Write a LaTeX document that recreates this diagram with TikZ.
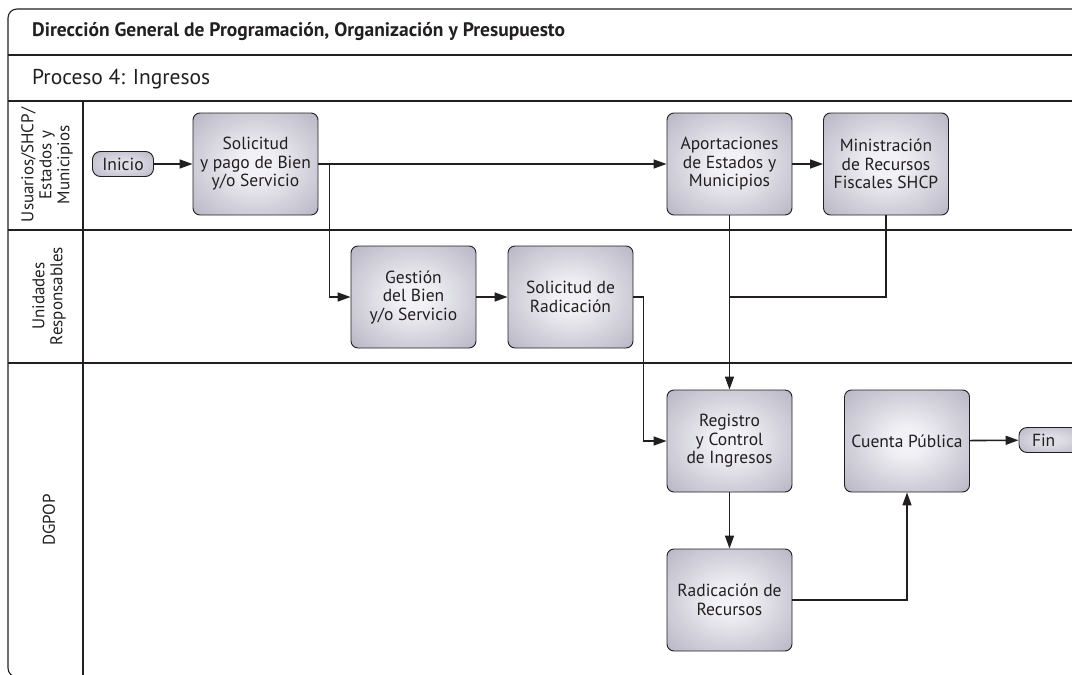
\documentclass[tikz,border=0pt]{standalone}
\usepackage{fontspec}
\setmainfont{PT Sans}
\usetikzlibrary{arrows.meta}
\definecolor{boxin}{RGB}{242,242,246}
\definecolor{boxout}{RGB}{166,164,182}
\definecolor{pillin}{RGB}{222,221,230}
\definecolor{pillout}{RGB}{170,168,186}
\definecolor{ink}{RGB}{35,31,32}
\pgfdeclareradialshading{boxglow}{\pgfpoint{0bp}{0bp}}{color(0bp)=(boxin); color(6bp)=(boxin); color(44bp)=(boxout); color(100bp)=(boxout)}
\pgfdeclareradialshading{pillglow}{\pgfpoint{0bp}{0bp}}{color(0bp)=(pillin); color(10bp)=(pillin); color(45bp)=(pillout); color(100bp)=(pillout)}
\begin{document}
\begin{tikzpicture}[x=1pt,y=-1pt,
  lane/.style={draw=ink,line width=1.1pt},
  stepbox/.style={draw=ink,line width=0.9pt,rounded corners=7pt,shading=boxglow,
    minimum width=125pt,minimum height=102pt,align=center,inner sep=1pt,
    font=\fontsize{17.5}{18.5}\selectfont,text=ink},
  pill/.style={draw=ink,line width=0.9pt,rounded corners=8pt,shading=pillglow,
    minimum width=61pt,minimum height=25pt,inner sep=1pt,
    font=\fontsize{17.5}{18.5}\selectfont,text=ink},
  lanelabel/.style={rotate=90,align=center,font=\fontsize{17}{18}\selectfont,text=ink},
  arr/.style={draw=ink,line width=1.6pt,-{Triangle[length=13pt,width=9pt]}},
  link/.style={draw=ink,line width=1.6pt}]
\useasboundingbox (0,0) rectangle (1072,675);
\clip (0,0) rectangle (1072,675);

% frame and swimlanes
\draw[lane,rounded corners=9pt] (8,9) rectangle (1100,677);
\draw[lane] (8,55) -- (1100,55);
\draw[lane] (8,101) -- (1100,101);
\draw[lane] (8,230) -- (1100,230);
\draw[lane] (8,363) -- (1100,363);
\draw[lane] (83,101) -- (83,680);

\node[anchor=west,inner sep=0pt,font=\bfseries\fontsize{19.5}{21}\selectfont,text=ink] (title) at (32,32)
  {Dirección General de Programación, Organización y Presupuesto};
\node[anchor=west,inner sep=0pt,font=\fontsize{21.5}{23}\selectfont,text=ink] (proc) at (32,79) {Proceso 4: Ingresos};

\node[lanelabel] (l1) at (47,165) {Usuarios/SHCP/\\Estados y\\Municipios};
\node[lanelabel] (l2) at (49,296) {Unidades\\Responsables};
\node[lanelabel] (l3) at (49,520) {DGPOP};

% process steps
\node[pill] (ini) at (123,164) {Inicio};
\node[stepbox] (sol) at (255.5,164) {Solicitud\\y pago de Bien\\y/o Servicio};
\node[stepbox] (apo) at (729.5,164) {Aportaciones\\de Estados y\\Municipios};
\node[stepbox] (min) at (886,164) {Ministración\\de Recursos\\Fiscales SHCP};
\node[stepbox] (ges) at (413.5,297) {Gestión\\del Bien\\y/o Servicio};
\node[stepbox] (rad) at (570.5,297) {Solicitud de\\Radicación};
\node[stepbox] (reg) at (729.5,441) {Registro\\y Control\\de Ingresos};
\node[stepbox] (cue) at (907,441) {Cuenta Pública};
\node[stepbox] (rdr) at (729.5,600) {Radicación de\\Recursos};
\node[pill,minimum width=62pt,text width=50pt,align=left] (fin) at (1050,440) {\hspace*{7pt}Fin};

\coordinate (join) at (729.5,297);

% connectors
\draw[arr] (ini) -- (sol);
\draw[arr] (sol.east) -- (apo.west);
\draw[arr] (sol.east) -- ++(11,0) |- (ges.west);
\draw[arr] (ges) -- (rad);
\draw[arr] (rad.east) -- ++(10,0) |- (reg.west);
\draw[arr] (apo) -- (min);
\draw[arr] (apo) -- (reg);
\draw[link] (min.south) |- (join);
\draw[arr] (reg) -- (rdr);
\draw[arr] (rdr.east) -| (cue.south);
\draw[arr] (cue) -- (fin);
\end{tikzpicture}
\end{document}
